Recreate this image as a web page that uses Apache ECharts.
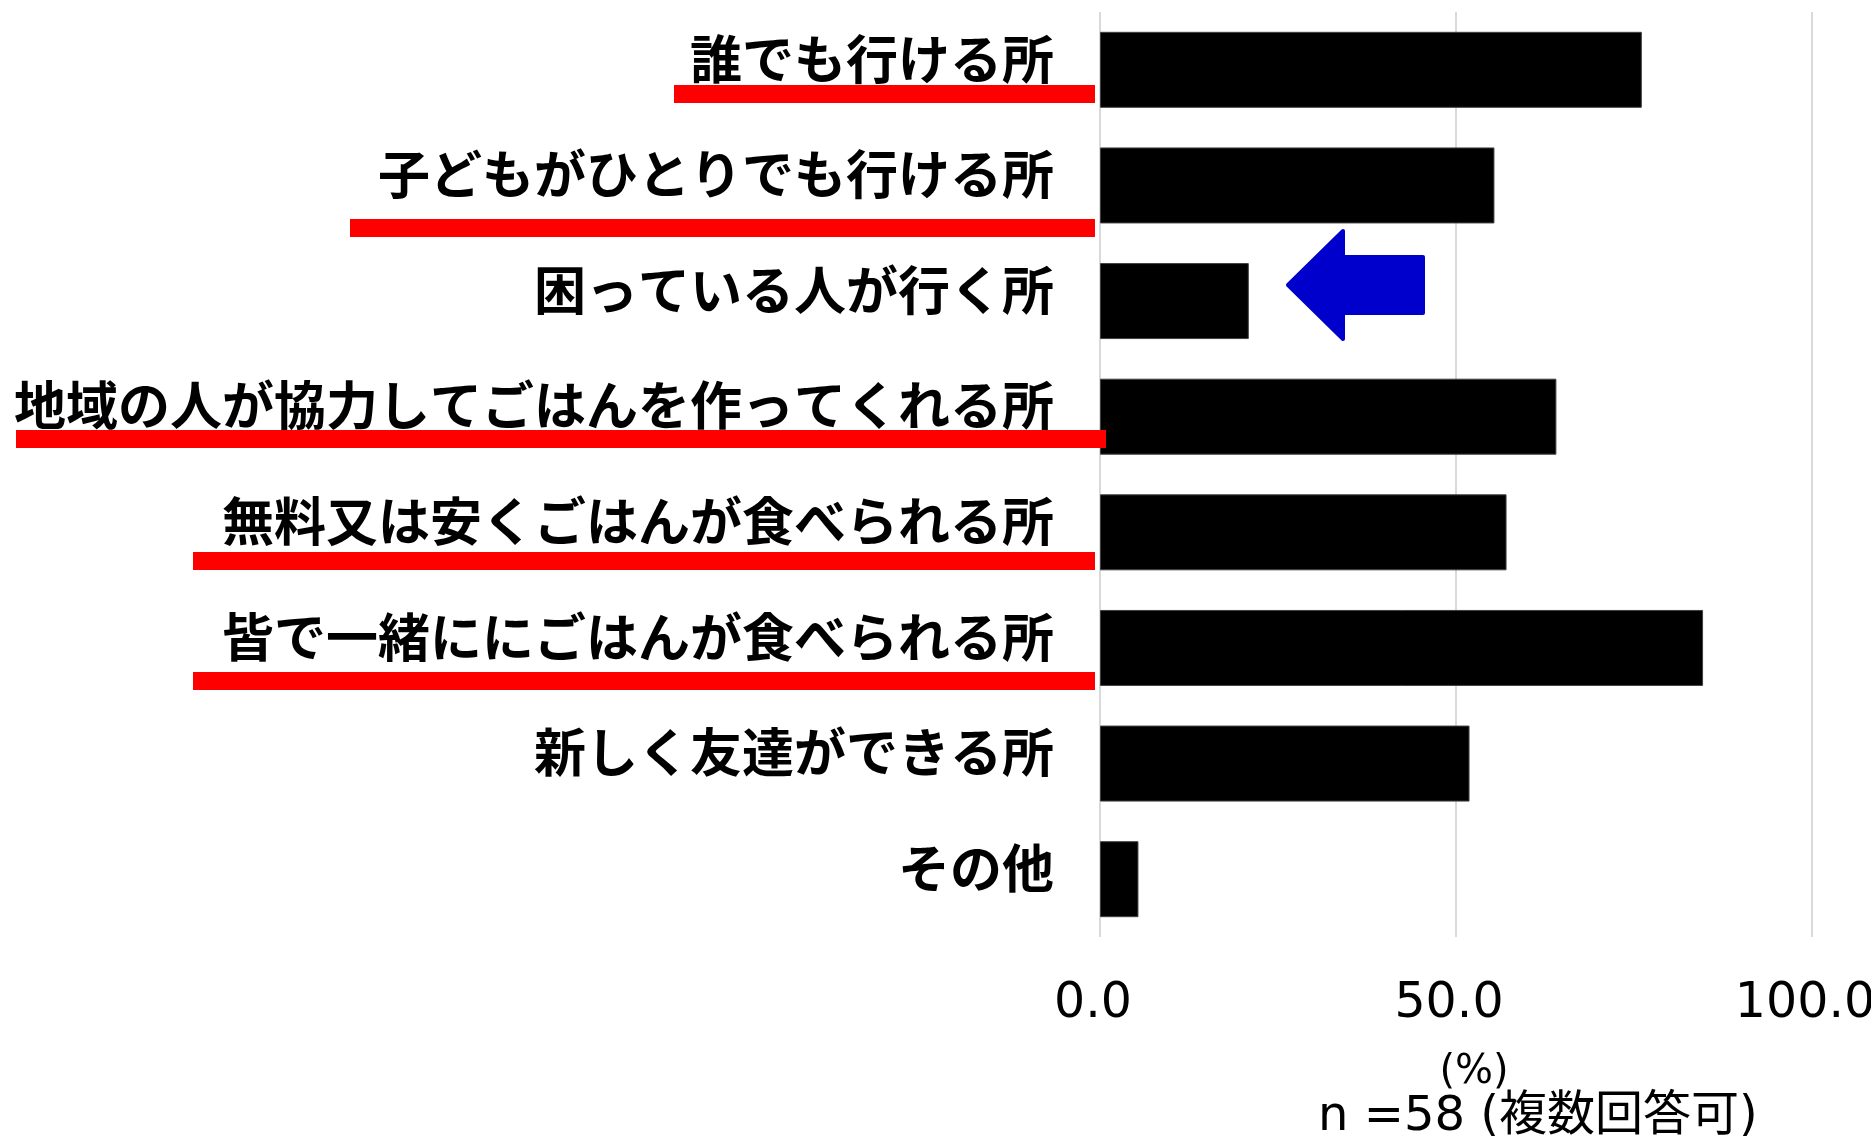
<!DOCTYPE html>
<html lang="ja">
<head>
<meta charset="utf-8">
<title>子ども食堂のイメージ</title>
<script src="https://cdn.jsdelivr.net/npm/echarts@6/dist/echarts.min.js"></script>
<style>
  html, body { margin: 0; padding: 0; background: #fff; }
  #chart { width: 1871px; height: 1136px; }
</style>
</head>
<body>
<div id="chart"></div>
<script>
// categories, top to bottom
const categories = [
    '誰でも行ける所',
    '子どもがひとりでも行ける所',
    '困っている人が行く所',
    '地域の人が協力してごはんを作ってくれる所',
    '無料又は安くごはんが食べられる所',
    '皆で一緒ににごはんが食べられる所',
    '新しく友達ができる所',
    'その他'
]
// percent (n=58)
const values = [76.1, 55.4, 20.9, 64.1, 57.1, 84.7, 51.9, 5.4]
const xTicks = [0, 50, 100]
const unitLabel = '(%)'
const noteText = 'n =58 (複数回答可)'

const chart = echarts.init(document.getElementById('chart'))

const red = '#ff0000'
// hand drawn underlines beneath some labels
const underline = (x, y, w) => ({
    type: 'rect', z: 100,
    shape: {x: x, y: y, width: w, height: 18},
    style: {fill: red}
})

chart.setOption({
    animation: false,
    grid: {
        left: 1100,
        right: 59,
        top: 12,
        bottom: 199,
        containLabel: false,
        outerBoundsMode: 'none'
    },
    xAxis: {
        type: 'value',
        min: xTicks[0],
        max: xTicks[xTicks.length - 1],
        interval: xTicks[1] - xTicks[0],
        axisLine: {show: false},
        axisTick: {show: false},
        splitLine: {
            show: true,
            lineStyle: {color: '#d9d9d9', width: 2}
        },
        axisLabel: {
            margin: 43,
            fontSize: 49,
            color: '#000',
            fontFamily: 'DejaVu Sans',
            padding: [0, 14, 0, 0],
            formatter: v => v.toFixed(1)
        },
        name: unitLabel,
        nameLocation: 'middle',
        nameGap: 116,
        nameTextStyle: {
            fontSize: 40,
            color: '#000',
            fontFamily: 'DejaVu Sans',
            padding: [0, 0, 0, 36]
        }
    },
    yAxis: {
        type: 'category',
        data: categories,
        inverse: true,
        axisLine: {show: false},
        axisTick: {show: false},
        splitLine: {show: false},
        axisLabel: {
            margin: 46,
            fontSize: 52,
            fontWeight: 'bold',
            color: '#000',
            fontFamily: '"Noto Sans CJK JP", sans-serif',
            verticalAlign: 'bottom',
            lineHeight: 22
        }
    },
    series: [{
        type: 'bar',
        data: values,
        barWidth: 76,
        itemStyle: {
            color: '#000',
            borderColor: '#404040',
            borderWidth: 1
        }
    }],
    graphic: [
        underline(674, 85, 421),
        underline(350, 219, 745),
        underline(16, 430, 1090),
        underline(193, 552, 902),
        underline(193, 672, 902),
        {
            // blue arrow pointing at 困っている人が行く所
            type: 'polygon', z: 100,
            shape: {
                points: [[1288, 285], [1343, 231], [1343, 257], [1423, 257],
                         [1423, 313], [1343, 313], [1343, 339]]
            },
            style: {fill: '#0000cc', stroke: '#0000cc', lineWidth: 4, lineJoin: 'round'}
        },
        {
            type: 'text', z: 100,
            left: 1318,
            top: 1094,
            style: {
                text: noteText,
                fontSize: 48,
                fontFamily: '"DejaVu Sans", "Noto Sans CJK JP"',
                fill: '#000'
            }
        }
    ]
})
</script>
</body>
</html>
